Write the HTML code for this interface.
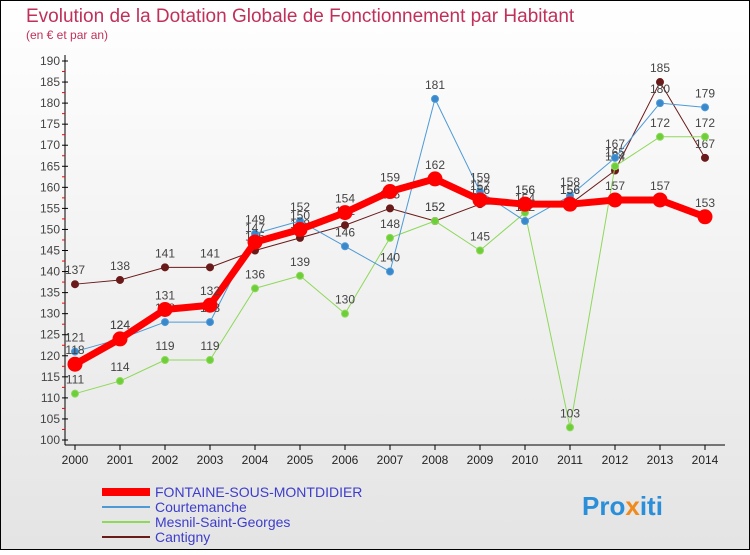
<!DOCTYPE html>
<html><head><meta charset="utf-8"><style>
body{margin:0;width:750px;height:550px;overflow:hidden;font-family:"Liberation Sans",sans-serif}
</style></head><body>
<svg width="750" height="550" xmlns="http://www.w3.org/2000/svg">
<defs><linearGradient id="bg" x1="0" y1="0" x2="0" y2="1"><stop offset="0" stop-color="#ffffff"/><stop offset="1" stop-color="#e4e4e4"/></linearGradient></defs>
<rect x="0.5" y="0.5" width="749" height="549" fill="url(#bg)" stroke="#000"/>
<text x="26" y="22" font-size="19" fill="#c0305a">Evolution de la Dotation Globale de Fonctionnement par Habitant</text>
<text x="26" y="39" font-size="12" fill="#c0305a">(en € et par an)</text>
<g id="axes"></g>
<g id="series"></g>
<g id="legend"></g>
<text x="582" y="515" font-size="26" font-weight="bold" fill="#2a8fd8">Pro<tspan fill="#f08a1c">x</tspan>iti</text>
</svg>
<script>
const years=[2000,2001,2002,2003,2004,2005,2006,2007,2008,2009,2010,2011,2012,2013,2014];
const fontaine=[118,124,131,132,147,150,154,159,162,157,156,156,157,157,153];
const courtemanche=[121,124,128,128,149,152,146,140,181,159,152,158,167,180,179];
const mesnil=[111,114,119,119,136,139,130,148,152,145,154,103,165,172,172];
const cantigny=[137,138,141,141,145,148,151,155,152,156,156,156,164,185,167];
const yTicks=[100,105,110,115,120,125,130,135,140,145,150,155,160,165,170,175,180,185,190];
const NS="http://www.w3.org/2000/svg";
function x(i){return 75+i*45;}
function y(v){return 440-(v-100)*(379/90);}
function mk(tag,attrs,parent){const e=document.createElementNS(NS,tag);for(const k in attrs)e.setAttribute(k,attrs[k]);parent.appendChild(e);return e;}
const ax=document.getElementById('axes');
let l=mk('line',{x1:65,y1:55,x2:65,y2:445,stroke:'#000'},ax);


l=mk('line',{x1:65,y1:445,x2:725,y2:445,stroke:'#000'},ax);


yTicks.forEach(v=>{
  mk('line',{x1:62,y1:y(v),x2:68,y2:y(v),stroke:'#000'},ax);
  if(v<190)mk('line',{x1:62,y1:y(v+2.5),x2:65,y2:y(v+2.5),stroke:'#f00'},ax);
  const t=mk('text',{x:60,y:y(v)+4,'font-size':12,fill:'#444','text-anchor':'end'},ax);
  t.textContent=v;
  
  
});
years.forEach((yr,i)=>{
  mk('line',{x1:x(i),y1:445,x2:x(i),y2:450,stroke:'#000'},ax);
  const t=mk('text',{x:x(i),y:464,'font-size':12,fill:'#222','text-anchor':'middle'},ax);
  t.textContent=yr;
  
  
});
const sg=document.getElementById('series');
function series(data,color,w,r,dot,name){
  const g=mk('g',{},sg);
  
  
  mk('polyline',{points:data.map((v,i)=>x(i)+','+y(v)).join(' '),fill:'none',stroke:color,'stroke-width':w,'stroke-linejoin':'round'},g);
  data.forEach((v,i)=>{
    const c=mk('circle',{cx:x(i),cy:y(v),r:r,fill:dot,stroke:color,'stroke-width':1},g);
    
    
    const t=mk('text',{x:x(i),y:y(v)-10,'font-size':12,fill:'#444','text-anchor':'middle'},g);
    t.textContent=v;
  });
}
series(cantigny,'#6b1a1a',1,3.5,'#6b1a1a','cantigny-series');
series(mesnil,'#8ed85a',1,3.5,'#6ccf3a','mesnil-series');
series(courtemanche,'#4d9ad6',1,3.5,'#3a88cc','courtemanche-series');
series(fontaine,'#ff0000',7,7,'#ff0000','fontaine-series');
const lg=document.getElementById('legend');
const items=[['FONTAINE-SOUS-MONTDIDIER','#ff0000',8],['Courtemanche','#4d9ad6',2],['Mesnil-Saint-Georges','#8ed85a',2],['Cantigny','#6b1a1a',2]];
items.forEach((it,k)=>{
  const yy=492+k*15;
  const g=mk('g',{},lg);
  
  
  mk('line',{x1:102,y1:yy,x2:150,y2:yy,stroke:it[1],'stroke-width':it[2]},g);
  const t=mk('text',{x:155,y:yy+5,'font-size':14,fill:'#3d3dcc'},g);
  t.textContent=it[0];
});
</script>
</body></html>
